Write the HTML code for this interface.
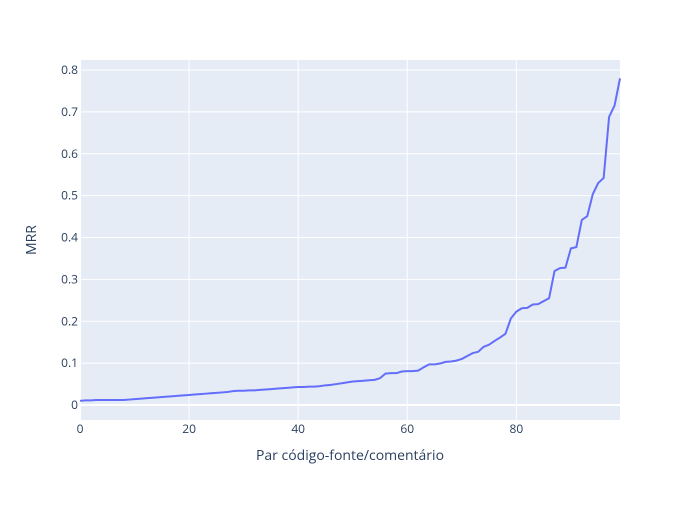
<!DOCTYPE html>
<html><head><meta charset="utf-8"><style>
body{margin:0;background:#fff;}
svg{font-family:"Open Sans","Liberation Sans",sans-serif;}
</style></head><body>
<svg id="chart" width="700" height="500" xmlns="http://www.w3.org/2000/svg">
<rect x="0" y="0" width="700" height="500" fill="#fff"/>
<rect x="80" y="60" width="540" height="360" fill="#e5ecf6"/>
<g id="grid"></g>
<g id="ticks"></g>
<path id="line" fill="none" stroke="#636efa" stroke-width="2" stroke-linejoin="round"/>
<text x="350" y="460" text-anchor="middle" font-size="14" fill="#2a3f5f">Par código-fonte/comentário</text>
<text transform="translate(36,240) rotate(-90)" text-anchor="middle" font-size="14" fill="#2a3f5f">MRR</text>
</svg>
<script>
const mrrValues = [
.010,.011,.011,.012,.012,.012,.012,.012,.012,.013,
.014,.015,.016,.017,.018,.019,.020,.021,.022,.023,
.024,.025,.026,.027,.028,.029,.030,.031,.033,.034,
.034,.035,.035,.036,.037,.038,.039,.040,.041,.042,
.043,.043,.044,.044,.045,.047,.048,.050,.052,.054,
.056,.057,.058,.059,.060,.064,.075,.076,.076,.080,
.081,.081,.082,.090,.097,.097,.099,.103,.104,.106,
.110,.117,.124,.127,.139,.144,.153,.161,.170,.207,
.223,.231,.232,.240,.241,.248,.255,.320,.327,.328,
.374,.377,.442,.451,.503,.530,.542,.688,.715,.780];
const xTicks = [0,20,40,60,80];
const yTicks = [0,0.1,0.2,0.3,0.4,0.5,0.6,0.7,0.8];
const yTickLabels = ["0","0.1","0.2","0.3","0.4","0.5","0.6","0.7","0.8"];

const NS="http://www.w3.org/2000/svg";
const xMin=0, xMax=mrrValues.length-1;
const sx=v=>80+(v-xMin)/(xMax-xMin)*540;
const sy=v=>405-v*(335/0.8);
const grid=document.getElementById('grid'), ticks=document.getElementById('ticks');
function mk(tag,attrs,parent){const e=document.createElementNS(NS,tag);for(const k in attrs)e.setAttribute(k,attrs[k]);parent.appendChild(e);return e;}
yTicks.forEach((t,i)=>{
  const y=sy(t);
  const l=mk('line',{x1:80,x2:620,y1:y,y2:y,stroke:'#fff','stroke-width':t===0?2:1},grid);
  
  
  const tx=mk('text',{x:78,y:y+4,'text-anchor':'end','font-size':12,fill:'#2a3f5f'},ticks);
  tx.textContent=yTickLabels[i];
  
  
});
xTicks.forEach(t=>{
  const x=sx(t);
  const l=mk('line',{x1:x,x2:x,y1:60,y2:420,stroke:'#fff','stroke-width':t===0?2:1},grid);
  
  
  const tx=mk('text',{x:x,y:433,'text-anchor':'middle','font-size':12,fill:'#2a3f5f'},ticks);
  tx.textContent=String(t);
  
  
});
document.getElementById('line').setAttribute('d',mrrValues.map((v,i)=>(i?'L':'M')+sx(i).toFixed(2)+','+sy(v).toFixed(2)).join(''));
</script>
</body></html>
